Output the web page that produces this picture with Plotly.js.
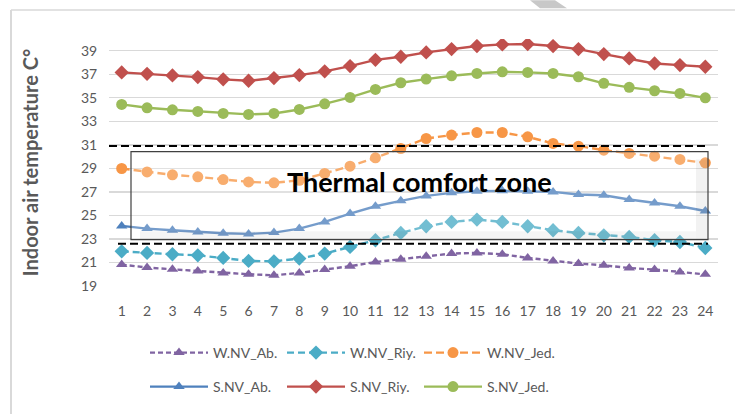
<!DOCTYPE html>
<html><head><meta charset="utf-8">
<script src="https://cdn.plot.ly/plotly-3.0.1.min.js"></script>
<style>html,body{margin:0;padding:0;background:#fff}#c{width:735px;height:414px}</style>
</head><body><div id="c"></div>
<script>
const hours = [1,2,3,4,5,6,7,8,9,10,11,12,13,14,15,16,17,18,19,20,21,22,23,24];
const wAb  = [20.82,20.57,20.42,20.28,20.11,20.0,19.91,20.11,20.4,20.68,21.04,21.27,21.53,21.76,21.81,21.7,21.39,21.13,20.91,20.76,20.53,20.4,20.19,19.99];
const wRiy = [21.95,21.81,21.7,21.61,21.39,21.13,21.1,21.33,21.76,22.32,22.89,23.51,24.08,24.45,24.65,24.45,24.08,23.74,23.51,23.31,23.17,22.89,22.74,22.23];
const wJed = [28.99,28.7,28.45,28.28,28.05,27.85,27.77,27.99,28.57,29.19,29.9,30.69,31.54,31.83,32.05,32.05,31.68,31.12,30.89,30.55,30.27,30.04,29.76,29.47];
const sAb  = [24.11,23.88,23.74,23.6,23.49,23.43,23.54,23.88,24.45,25.16,25.78,26.24,26.66,26.92,27.06,27.09,27.06,27.0,26.78,26.72,26.35,26.06,25.78,25.38];
const sRiy = [37.16,37.04,36.9,36.76,36.57,36.45,36.68,36.93,37.25,37.7,38.23,38.49,38.86,39.14,39.4,39.54,39.57,39.4,39.14,38.72,38.35,37.92,37.78,37.64];
const sJed = [34.44,34.15,33.98,33.84,33.67,33.59,33.67,34.01,34.49,35.03,35.71,36.28,36.59,36.87,37.07,37.21,37.16,37.07,36.79,36.23,35.89,35.6,35.37,35.0];
const yTicks = [19,21,23,25,27,29,31,33,35,37,39];
const comfortTop = 30.9, comfortBottom = 22.6;
const zoneLabel = "Thermal comfort zone";
const yTitle = "Indoor air temperature C°";

const W=735,H=414,L=109,R=17,T=39,B=127;
const pw=W-L-R, ph=H-T-B;
const PX = p => (p-L)/pw;
const PY = p => (H-B-p)/ph;

function tr(name, y, color, symbol, dash, legend, size){
  return {x:hours, y:y, name:name, type:'scatter', mode:'lines+markers',
    line:{color:color, width:2.4, dash:dash},
    marker:{color:color, symbol:symbol, size:size},
    legend:legend};
}
const data = [
  tr('W.NV_Ab.', wAb, '#8064A2', 'triangle-up', '5px,3px', 'legend', 10),
  tr('W.NV_Riy.', wRiy, '#4BACC6', 'diamond', '7px,4px', 'legend', 11),
  tr('W.NV_Jed.', wJed, '#F79646', 'circle', '8px,4px', 'legend', 11),
  tr('S.NV_Ab.', sAb, '#4F81BD', 'triangle-up', 'solid', 'legend2', 10),
  tr('S.NV_Riy.', sRiy, '#C0504D', 'diamond', 'solid', 'legend2', 11),
  tr('S.NV_Jed.', sJed, '#9BBB59', 'circle', 'solid', 'legend2', 11)
];
const tickFont = {family:'Lato, sans-serif', size:14, color:'#595959'};
const legCommon = {orientation:'h', font:tickFont, bgcolor:'rgba(0,0,0,0)', entrywidth:64, entrywidthmode:'pixels', itemwidth:58, xanchor:'left', yanchor:'middle', traceorder:'normal'};
const layout = {
  width:W, height:H, margin:{l:L,r:R,t:T,b:B},
  paper_bgcolor:'#fff', plot_bgcolor:'#fff',
  xaxis:{range:[0.5,24.5], tickvals:hours, showgrid:false, zeroline:false, showline:false,
    ticks:'outside', ticklen:12, tickcolor:'rgba(0,0,0,0)', tickfont:tickFont, fixedrange:true},
  yaxis:{range:[19,40], tickvals:yTicks, gridcolor:'#D9D9D9', gridwidth:1.3, zeroline:false, showline:false,
    ticks:'outside', ticklen:8, tickcolor:'rgba(0,0,0,0)', tickfont:tickFont,
    title:{text:yTitle, font:{family:'Lato, sans-serif', size:20, color:'#595959', weight:'bold'}, standoff:36}},
  showlegend:true,
  legend:Object.assign({x:PX(145), y:PY(353)}, legCommon),
  legend2:Object.assign({x:PX(145), y:PY(387)}, legCommon),
  shapes:[
    {type:'line', xref:'paper', yref:'paper', x0:PX(11), x1:PX(11), y0:PY(10), y1:PY(416), line:{color:'#D9D9D9', width:2}},
    {type:'line', xref:'paper', yref:'paper', x0:PX(11), x1:PX(737), y0:PY(10), y1:PY(10), line:{color:'#D9D9D9', width:1.5}},
    {type:'path', xref:'paper', yref:'paper', path:`M${PX(530)},${PY(0)} L${PX(555)},${PY(0)} L${PX(567)},${PY(8)} L${PX(540)},${PY(8)} Z`, fillcolor:'#C8C8C8', line:{width:0}},
    {type:'rect', xref:'paper', yref:'paper', x0:PX(131), x1:PX(708), y0:PY(240.5), y1:PY(152), fillcolor:'rgba(255,255,255,0.22)', line:{width:0}, layer:'above'},
    {type:'rect', xref:'paper', yref:'paper', x0:PX(696), x1:PX(708), y0:PY(240.5), y1:PY(160), fillcolor:'rgba(0,0,0,0.05)', line:{width:0}, layer:'above'},
    {type:'rect', xref:'paper', yref:'paper', x0:PX(140), x1:PX(696), y0:PY(240.5), y1:PY(232), fillcolor:'rgba(0,0,0,0.04)', line:{width:0}, layer:'above'},
    {type:'rect', xref:'paper', yref:'paper', x0:PX(131), x1:PX(708), y0:PY(240.5), y1:PY(152), fillcolor:'rgba(0,0,0,0)', line:{color:'#404040', width:1.2}, layer:'above'},
    {type:'line', xref:'paper', yref:'y', x0:PX(109), x1:PX(707), y0:comfortTop, y1:comfortTop, line:{color:'#000', width:2, dash:'8px,4px'}, layer:'above'},
    {type:'line', xref:'paper', yref:'y', x0:PX(118), x1:PX(708), y0:comfortBottom, y1:comfortBottom, line:{color:'#000', width:2, dash:'8px,4px'}, layer:'above'}
  ],
  annotations:[
    {text:zoneLabel, xref:'paper', yref:'paper', x:PX(419), y:PY(182), showarrow:false, xanchor:'center', yanchor:'middle',
     font:{family:'Lato, sans-serif', size:27, color:'#000', weight:'bold'}}
  ]
};
Plotly.newPlot('c', data, layout, {staticPlot:true});
</script></body></html>
